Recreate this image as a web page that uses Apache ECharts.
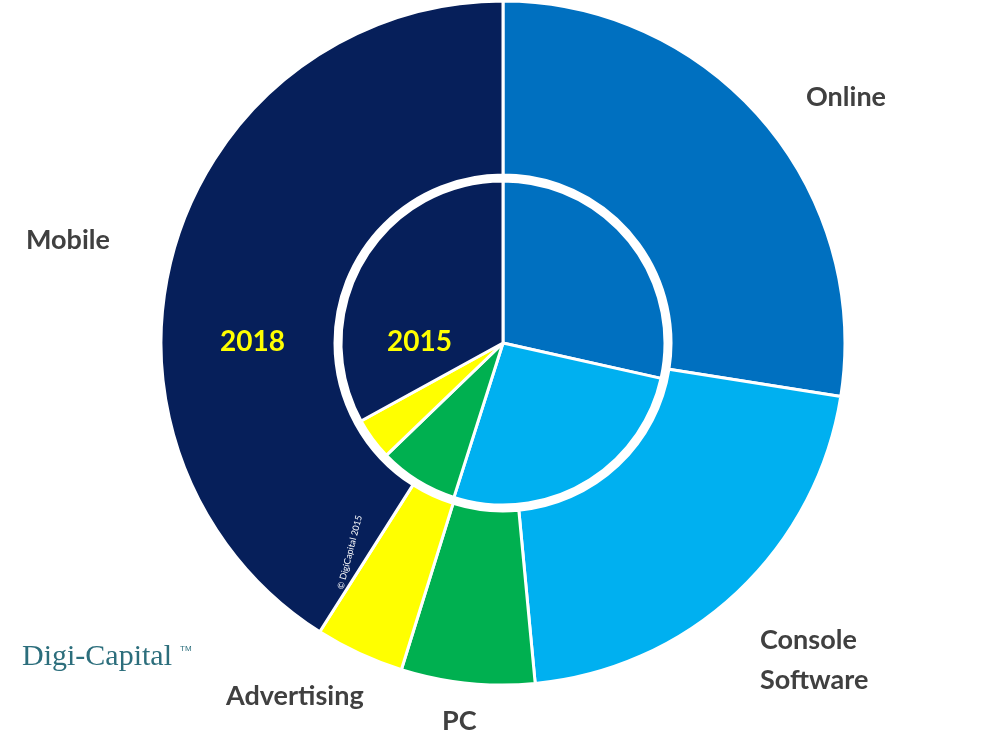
<!DOCTYPE html>
<html><head><meta charset="utf-8">
<script src="https://cdn.jsdelivr.net/npm/echarts@6/dist/echarts.min.js"></script>
<style>html,body{margin:0;background:#fff}#c{width:1000px;height:749px}</style>
</head><body><div id="c"></div>
<script>
const categories = ['Online','Console Software','PC','Advertising','Mobile'];
const colors = ['#0070c0','#00b0f0','#00b050','#ffff00','#061f5a'];
const values2018 = [27.5,21.0,6.3,4.2,41.0];
const values2015 = [28.5,26.4,7.9,4.2,33.0];
const mk = v => v.map((x,i)=>({name:categories[i],value:x,itemStyle:{color:colors[i]}}));
const chart = echarts.init(document.getElementById('c'));
const lbl = {fontFamily:'Lato',fontWeight:'bold',fontSize:27,fill:'#404040'};
chart.setOption({
  animation:false,
  series:[
    {type:'pie',center:[503,343],radius:[168,342],startAngle:90,clockwise:true,label:{show:false},
     itemStyle:{borderColor:'#fff',borderWidth:3},data:mk(values2018)},
    {type:'pie',center:[503,343],radius:[0,162],startAngle:90,clockwise:true,label:{show:false},
     itemStyle:{borderColor:'#fff',borderWidth:3},data:mk(values2015)}
  ],
  graphic:[
    {type:'circle',shape:{cx:503,cy:343,r:165},style:{fill:'none',stroke:'#fff',lineWidth:6},z:100},
    {type:'text',left:806,top:84,style:Object.assign({text:'Online'},lbl)},
    {type:'text',left:26,top:227,style:Object.assign({text:'Mobile'},lbl)},
    {type:'text',left:760,top:620,style:Object.assign({text:'Console\nSoftware',lineHeight:40},lbl)},
    {type:'text',left:226,top:683,style:Object.assign({text:'Advertising'},lbl)},
    {type:'text',left:442,top:708,style:Object.assign({text:'PC'},lbl)},
    {type:'text',left:220,top:328,z:101,style:{text:'2018',fontFamily:'Lato',fontWeight:'bold',fontSize:28,fill:'#ffff00'}},
    {type:'text',left:387,top:328,z:101,style:{text:'2015',fontFamily:'Lato',fontWeight:'bold',fontSize:28,fill:'#ffff00'}},
    {type:'text',left:22,top:642,style:{text:'Digi-Capital',fontFamily:'Liberation Sans Narrow',fontSize:30,fill:'#2c6e7c'}},
    {type:'text',left:180,top:645,style:{text:'TM',fontFamily:'Liberation Sans',fontSize:8,fill:'#2c6e7c'}},
    {type:'text',x:336,y:588,rotation:Math.PI*0.42,z:101,style:{text:'© DigiCapital 2015',fontFamily:'Lato',fontSize:9,fill:'#fff'}}
  ]
});
</script></body></html>
